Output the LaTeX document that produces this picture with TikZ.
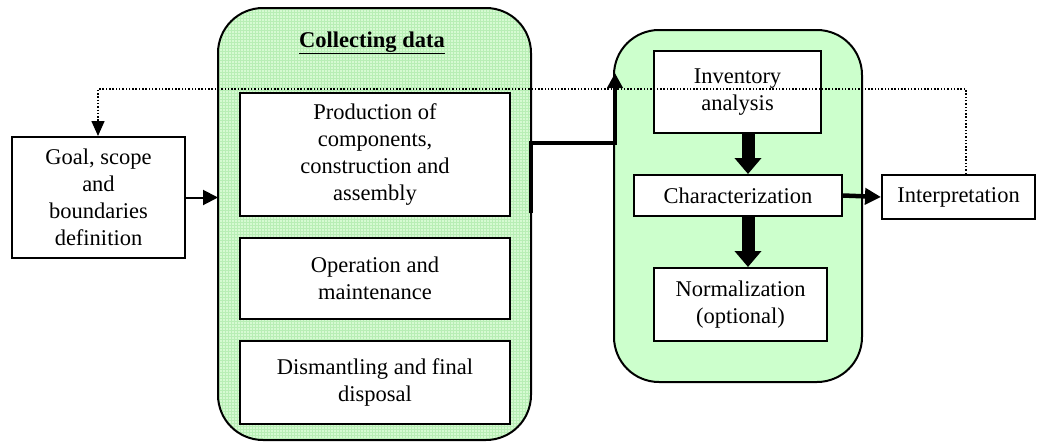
\documentclass[tikz,border=0pt]{standalone}
\usepackage{fontspec}
\setmainfont{Liberation Serif}
\usetikzlibrary{arrows.meta}
\definecolor{gridbase}{HTML}{D6FAD2}
\definecolor{gridline}{HTML}{B8EEB5}
\definecolor{rightfill}{HTML}{CCFFCC}
\tikzset{
  every node/.style={font=\fontsize{22.5}{27}\selectfont},
  wbox/.style={draw, line width=2pt, fill=white, align=center, inner sep=0pt},
  panel/.style={draw, line width=2pt, rounded corners=45pt},
  thinarrow/.style={line width=2pt, -{Triangle[width=15pt,length=15pt]}},
  thickarrow/.style={line width=4.5pt, -{Triangle[width=16pt,length=16pt]}},
  fatarrow/.style={line width=13pt, -{Triangle[width=26pt,length=16pt]}},
  dotline/.style={line width=1.5pt, dash pattern=on 1.5pt off 1.8pt, -{Triangle[width=13pt,length=15pt]}}
}
\begin{document}
\begin{tikzpicture}[x=1pt,y=-1pt]
\useasboundingbox (0,0) rectangle (1037,442);
% left panel with grid texture
\begin{scope}
  \clip[rounded corners=45pt] (218,8) rectangle (531,440);
  \fill[gridbase] (218,8) rectangle (531,440);
  \draw[gridline, line width=0.7pt, step=3pt] (218,8) grid (531,440);
\end{scope}
\node[panel, minimum width=313pt, minimum height=432pt, inner sep=0pt] (left) at (374.5,224) {};
\node[font=\fontsize{22.5}{27}\selectfont\bfseries] (title) at (372,43) {\underline{Collecting data}};
% right panel
\node[panel, fill=rightfill, minimum width=248pt, minimum height=352pt, inner sep=0pt] (right) at (738,206) {};
% boxes
\node[wbox, minimum width=173pt, minimum height=121pt] (goal) at (98.5,197.5) {Goal, scope\\and\\boundaries\\definition};
\node[wbox, minimum width=270pt, minimum height=123pt] (prod) at (375,154.5) {Production of\\components,\\construction and\\assembly};
\node[wbox, minimum width=270pt, minimum height=81pt] (oper) at (375,278.5) {Operation and\\maintenance};
\node[wbox, minimum width=270pt, minimum height=83pt] (dism) at (375,382.5) {Dismantling and final\\disposal};
\node[wbox, minimum width=167pt, minimum height=82pt] (inv) at (737.5,92) {Inventory\\analysis};
\node[wbox, minimum width=208pt, minimum height=41pt] (char) at (738,195.5) {Characterization};
\node[wbox, minimum width=173pt, minimum height=73pt] (norm) at (740.5,304.5) {Normalization\\(optional)};
\node[wbox, minimum width=153pt, minimum height=44pt] (interp) at (958.5,197) {Interpretation};
% connectors
\coordinate (leftin) at (218,197.5);
\draw[thinarrow] (goal.east) -- (leftin);
\coordinate (b1) at (531,213);
\coordinate (b2) at (531,143);
\coordinate (b3) at (615,143);
\coordinate (b4) at (615,73);
\draw[line width=4.5pt, -{Triangle[width=15pt,length=15pt]}] (b1) -- (b2) -- (b3) -- (b4);
\draw[fatarrow] (inv.south -| 748,0) -- (char.north -| 748,0);
\draw[fatarrow] (char.south -| 748,0) -- (norm.north -| 748,0);
\draw[thickarrow] (char.east) -- (interp.west);
\coordinate (d1) at (966,89);
\coordinate (d2) at (98,89);
\draw[dotline] (interp.north -| d1) -- (d1) -- (d2) -- (goal.north -| d2);
\end{tikzpicture}
\end{document}
